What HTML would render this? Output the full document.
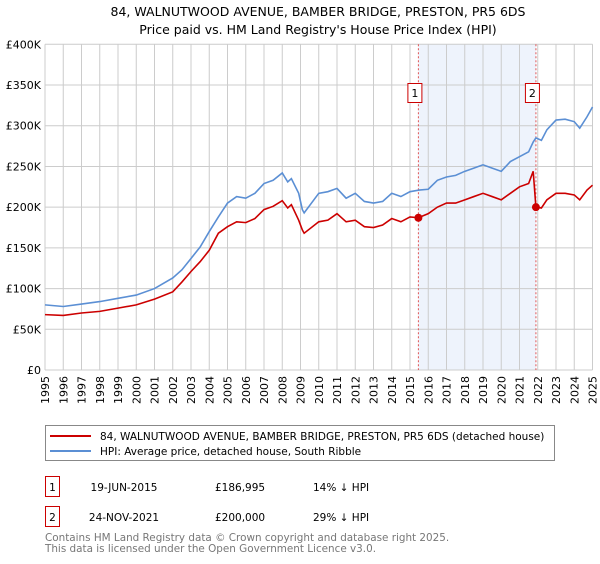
<!DOCTYPE html>
<html><head><meta charset="utf-8"><style>
body{margin:0;background:#fff;font-family:"DejaVu Sans","Liberation Sans",sans-serif;}
svg text{font-family:"DejaVu Sans","Liberation Sans",sans-serif;}
</style></head><body>
<svg id="chart" width="600" height="560" xmlns="http://www.w3.org/2000/svg">
<text x="318" y="16" text-anchor="middle" font-size="12.5" fill="#000">84, WALNUTWOOD AVENUE, BAMBER BRIDGE, PRESTON, PR5 6DS</text>
<text x="318" y="34" text-anchor="middle" font-size="12.5" fill="#000">Price paid vs. HM Land Registry's House Price Index (HPI)</text>
<g id="plot"></g>
<rect x="45.5" y="425.5" width="509" height="35" fill="#fff" stroke="#888"/>
<line x1="50" y1="436" x2="91" y2="436" stroke="#cc0000" stroke-width="2"/>
<text x="100" y="440" font-size="10.5" fill="#000">84, WALNUTWOOD AVENUE, BAMBER BRIDGE, PRESTON, PR5 6DS (detached house)</text>
<line x1="50" y1="451" x2="91" y2="451" stroke="#5b8fd4" stroke-width="2"/>
<text x="100" y="455" font-size="10.5" fill="#000">HPI: Average price, detached house, South Ribble</text>
<g font-size="10.5" fill="#000">
<rect x="45.5" y="476.5" width="14" height="20" fill="#fff" stroke="#cc0000"/>
<text x="52.5" y="491" text-anchor="middle">1</text>
<text x="124" y="491" text-anchor="middle">19-JUN-2015</text>
<text x="215" y="491">£186,995</text>
<text x="313" y="491">14% ↓ HPI</text>
</g>
<g font-size="10.5" fill="#000">
<rect x="45.5" y="506.5" width="14" height="20" fill="#fff" stroke="#cc0000"/>
<text x="52.5" y="521" text-anchor="middle">2</text>
<text x="124" y="521" text-anchor="middle">24-NOV-2021</text>
<text x="215" y="521">£200,000</text>
<text x="313" y="521">29% ↓ HPI</text>
</g>
<text x="45" y="541" font-size="10.4" fill="#777">Contains HM Land Registry data © Crown copyright and database right 2025.</text>
<text x="45" y="552" font-size="10.4" fill="#777">This data is licensed under the Open Government Licence v3.0.</text>
</svg>
<script>
const hpiYears=[1995,1996,1997,1998,1999,2000,2001,2002,2002.5,2003,2003.5,2004,2004.5,2005,2005.5,2006,2006.5,2007,2007.5,2008,2008.3,2008.5,2008.9,2009.1,2009.2,2010,2010.5,2011,2011.5,2012,2012.5,2013,2013.5,2014,2014.5,2015,2015.5,2016,2016.5,2017,2017.5,2018,2018.5,2019,2019.5,2020,2020.5,2021,2021.5,2021.75,2021.9,2022.2,2022.5,2023,2023.5,2024,2024.3,2024.7,2025];
const hpiValues=[80,78,81,84,88,92,100,113,123,137,151,170,188,205,213,211,217,229,233,242,231,235,217,197,193,217,219,223,211,217,207,205,207,217,213,219,221,222,233,237,239,244,248,252,248,244,256,262,268,280,285,282,295,307,308,305,297,311,323];
const priceYears=[1995,1996,1997,1998,1999,2000,2001,2002,2002.5,2003,2003.5,2004,2004.5,2005,2005.5,2006,2006.5,2007,2007.5,2008,2008.3,2008.5,2008.9,2009.1,2009.2,2010,2010.5,2011,2011.5,2012,2012.5,2013,2013.5,2014,2014.5,2015,2015.46,2016,2016.5,2017,2017.5,2018,2018.5,2019,2019.5,2020,2020.5,2021,2021.5,2021.75,2021.9,2022.2,2022.5,2023,2023.5,2024,2024.3,2024.7,2025];
const priceValues=[68,67,70,72,76,80,87,96,108,121,133,147,168,176,182,181,186,197,201,208,199,203,184,172,168,182,184,192,182,184,176,175,178,186,182,188,187,192,200,205,205,209,213,217,213,209,217,225,229,244,200,199,209,217,217,215,209,221,227];
const saleYears=[2015.46,2021.9];
const saleValues=[186.995,200];
const saleLabels=["1","2"];
const yTicks=[0,50,100,150,200,250,300,350,400];
const yTickLabels=["£0","£50K","£100K","£150K","£200K","£250K","£300K","£350K","£400K"];
const xTicks=[1995,1996,1997,1998,1999,2000,2001,2002,2003,2004,2005,2006,2007,2008,2009,2010,2011,2012,2013,2014,2015,2016,2017,2018,2019,2020,2021,2022,2023,2024,2025];

const NS="http://www.w3.org/2000/svg";
const X0=45,X1=592.5,Y0=370,Y1=44.3;
const xs=y=>X0+(y-1995)/30*(X1-X0);
const ys=v=>Y0-v/400*(Y0-Y1);
const g=document.getElementById('plot');
function mk(t,a){const e=document.createElementNS(NS,t);for(const k in a)e.setAttribute(k,a[k]);g.appendChild(e);return e;}

let band=mk('rect',{x:xs(saleYears[0]),y:Y1,width:xs(saleYears[1])-xs(saleYears[0]),height:Y0-Y1,fill:'#eef3fc'});


xTicks.forEach(t=>{
  const l=mk('line',{x1:xs(t),x2:xs(t),y1:Y1,y2:Y0,stroke:'#cccccc','stroke-width':1});
  
  
  const tx=mk('text',{x:0,y:0,'font-size':11,fill:'#000','text-anchor':'end',transform:`translate(${xs(t)+4},${Y0+6}) rotate(-90)`});
  tx.textContent=t;
  
  
});
yTicks.forEach((t,i)=>{
  const l=mk('line',{x1:X0,x2:X1,y1:ys(t),y2:ys(t),stroke:'#cccccc','stroke-width':1});
  
  
  const tx=mk('text',{x:X0-4,y:ys(t)+4,'font-size':11,fill:'#000','text-anchor':'end'});
  tx.textContent=yTickLabels[i];
  
  
});
saleYears.forEach((s,i)=>{
  const l=mk('line',{x1:xs(s),x2:xs(s),y1:Y1,y2:Y0,stroke:'#e05555','stroke-width':1,'stroke-dasharray':'2,2'});
  
  
  const b=mk('rect',{x:xs(s)-10.5,y:83.5,width:14,height:19,fill:'#fff',stroke:'#cc0000'});
  
  
  const tx=mk('text',{x:xs(s)-3.5,y:97,'font-size':11,'text-anchor':'middle',fill:'#000'});
  tx.textContent=saleLabels[i];
  
  
});
const hp=mk('polyline',{points:hpiYears.map((y,i)=>xs(y)+','+ys(hpiValues[i])).join(' '),fill:'none',stroke:'#5b8fd4','stroke-width':1.6});


const pp=mk('polyline',{points:priceYears.map((y,i)=>xs(y)+','+ys(priceValues[i])).join(' '),fill:'none',stroke:'#cc0000','stroke-width':1.6});


saleYears.forEach((s,i)=>{
  const c=mk('circle',{cx:xs(s),cy:ys(saleValues[i]),r:4,fill:'#cc0000'});
  
  
});
</script>
</body></html>
